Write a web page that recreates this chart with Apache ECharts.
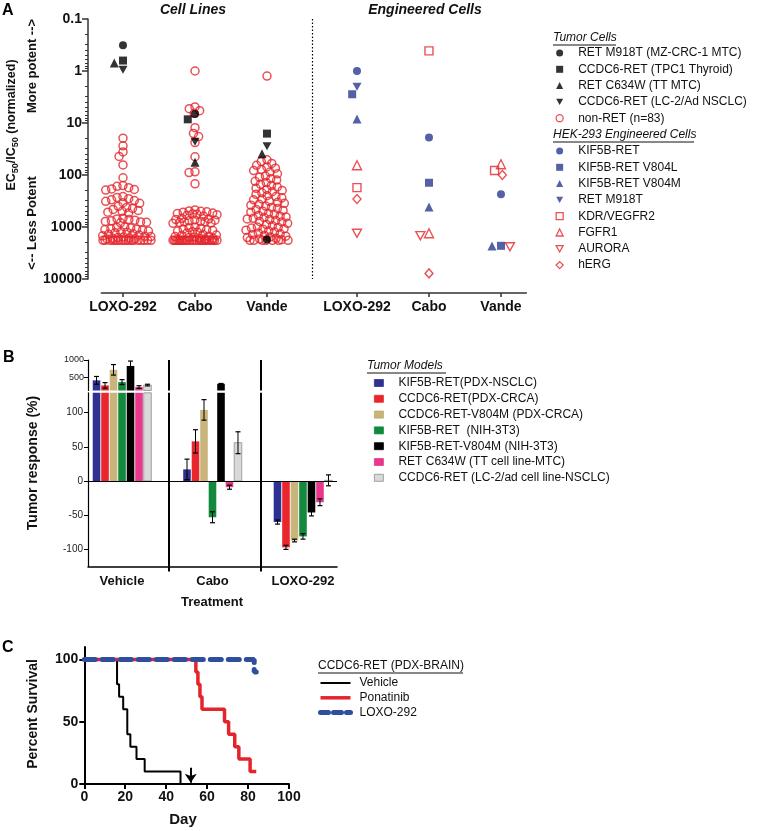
<!DOCTYPE html>
<html><head><meta charset="utf-8">
<script src="https://cdn.jsdelivr.net/npm/echarts@6/dist/echarts.min.js"></script>
<style>html,body{margin:0;padding:0;background:#fff}#c{width:764px;height:831px}</style>
</head><body><div id="c"></div><script>
// ---------------- DATA ----------------
// Panel A
const cellDrugs = ['LOXO-292', 'Cabo', 'Vande'];
const engDrugs = ['LOXO-292', 'Cabo', 'Vande'];
const yTicksA = [0.1, 1, 10, 100, 1000, 10000];

const nonRetLoxo = [19.6, 27.5, 36, 44, 64, 113,
  160, 165, 175, 185, 190, 195,
  260, 270, 285, 300, 310, 320, 340, 350,
  400, 420, 440, 460, 480, 500, 520, 540,
  680, 700, 720, 740, 760, 780, 800, 810, 820, 830,
  1000, 1020, 1050, 1080, 1100, 1120, 1150, 1180, 1200, 1230, 1260, 1290,
  1350, 1380, 1420, 1450, 1480, 1500, 1530, 1560, 1600, 1620, 1650, 1680, 1700,
  1800, 1800, 1800, 1800, 1800, 1800, 1800, 1800, 1800, 1800,
  1800, 1800, 1800, 1800, 1800, 1800, 1800, 1800, 1800, 1800];
const nonRetCabo = [1.0, 4.9, 5.3, 5.8, 6.5, 12.3, 15.9, 18.2, 23.8, 44.6, 87, 90, 148,
  470, 490, 500, 510, 520, 540, 550, 560, 570, 580, 600, 620,
  680, 700, 720, 730, 740, 760, 780, 790, 800, 820, 840, 850,
  1000, 1030, 1060, 1100, 1130, 1160, 1200, 1230, 1260, 1300,
  1400, 1430, 1460, 1500, 1530, 1560, 1600, 1630, 1660, 1700,
  1800, 1800, 1800, 1800, 1800, 1800, 1800, 1800, 1800, 1800, 1800, 1800, 1800,
  1800, 1800, 1800, 1800, 1800, 1800, 1800, 1800, 1800, 1800, 1800, 1800, 1800];
const nonRetVande = [1.25,
  51, 55, 60, 65, 70, 74, 78, 82, 88, 95,
  105, 110, 118, 125, 132, 140, 150, 160, 170, 180, 190, 198,
  210, 220, 235, 250, 260, 275, 290, 300, 320, 335, 350, 365, 380, 395,
  420, 440, 460, 480, 500, 520, 550, 570, 600, 620, 640, 660, 680, 700,
  720, 750, 780, 800, 850, 900, 950, 1000, 1020, 1050, 1080, 1100, 1150, 1200,
  1250, 1300, 1350, 1400, 1450, 1500, 1550, 1600, 1650, 1700, 1750, 1800, 1800, 1800, 1800, 1800, 1800, 1800];

// tumor cells, values for [LOXO-292, Cabo, Vande]
const retM918T_MZCRC1 = [0.32, 6.7, 1740];
const ccdc6Ret_TPC1 = [0.63, 8.5, 16];
const retC634W_TT = [0.7, 57, 39];
const ccdc6Ret_LC2 = [0.95, 23, 28];
// HEK-293 engineered cells, values for [LOXO-292, Cabo, Vande]
const kif5bRet = [1.0, 19, 235];
const kif5bRetV804L = [2.8, 141, 2300];
const kif5bRetV804M = [8.4, 413, 2330];
const retM918T_HEK = [2.0, null, null];
const kdrVegfr2 = [175, 0.41, 82];
const fgfr1 = [65, 1320, 62];
const aurora = [1320, 1470, 2400];
const hERG = [290, 7800, 100];

// Panel B: tumor response (%) for [Vehicle, Cabo, LOXO-292]
const treatments = ['Vehicle', 'Cabo', 'LOXO-292'];
const respKif5bNsclc = [420, 17, -60], errKif5bNsclc = [110, 15, 3];
const respCcdc6Crca = [275, 58, -97], errCcdc6Crca = [80, 17, 3];
const respCcdc6V804m = [720, 104, -87], errCcdc6V804m = [150, 15, 2];
const respKif5bNih = [370, -53, -81], errKif5bNih = [70, 8, 4];
const respKif5bV804mNih = [830, 320, -46], errKif5bV804mNih = [140, 10, 5];
const respRetC634wTT = [228, -9, -31], errRetC634wTT = [38, 3, 5];
const respCcdc6Lc2 = [285, 56, 1], errCcdc6Lc2 = [24, 16, 8];
const yTicksBLow = [-100, -50, 0, 50, 100];
const yTicksBHigh = [500, 1000];

// Panel C: Kaplan-Meier [day, percent survival]
const survVehicle = [[0, 100], [16, 80], [17, 70], [19, 60], [21, 40], [22.5, 30], [25.5, 20], [29.5, 10], [47, 0]];
const survPonatinib = [[0, 100], [54.5, 90], [55.5, 80], [56.5, 70], [57.5, 60], [68.5, 50], [70.5, 40], [73.5, 30], [75.5, 20], [81, 10], [84, 10]];
const survLoxo = [[0, 100], [83, 90], [84, 90]];
const arrowDay = 52;
const yTicksC = [0, 50, 100];

// ---------------- LAYOUT / STYLE ----------------
const FONT = '"Liberation Sans", Arial, sans-serif';
const RED = '#E4262C', NAVY = '#2B3990';
const A_PX_PER_UNIT = 72, A_PX_PER_DECADE = 52;
const cellX = [1, 2, 3], engX = [4.25, 5.25, 6.25];
const xPosA = cellX.concat(engX), xLabA = cellDrugs.concat(engDrugs);
const DOWN_TRI = 'path://M0,0L10,0L5,9Z';

function swarm(values, colX, d, maxHalf) {
  const order = values.map((v, i) => i).filter(i => values[i] != null)
    .sort((a, b) => values[a] - values[b]);
  const placed = [];
  const out = values.map(() => null);
  order.forEach(i => {
    const y = Math.log10(values[i]) * A_PX_PER_DECADE;
    const near = placed.filter(p => Math.abs(p.y - y) < d);
    const cands = [0];
    near.forEach(p => {
      const dx = Math.sqrt(d * d - (p.y - y) * (p.y - y));
      cands.push(p.x - dx, p.x + dx);
    });
    cands.sort((a, b) => Math.abs(a) - Math.abs(b));
    let best = null;
    for (const c of cands) {
      if (Math.abs(c) > maxHalf) continue;
      if (near.every(p => (p.x - c) ** 2 + (p.y - y) ** 2 >= d * d - 1e-6)) { best = c; break; }
    }
    if (best === null) {
      let score = -1;
      for (let c = -maxHalf; c <= maxHalf + 1e-9; c += 0.5) {
        let m = Infinity;
        near.forEach(p => { m = Math.min(m, Math.hypot(p.x - c, p.y - y)); });
        if (m > score + 1e-9) { score = m; best = c; }
      }
    }
    placed.push({ x: best, y });
    out[i] = [colX + best / A_PX_PER_UNIT, values[i]];
  });
  return out;
}

function groupSwarm(sets, xs, d, maxHalf) {
  const res = sets.map(() => []);
  xs.forEach((x, j) => {
    const pos = swarm(sets.map(s => s[j]), x, d, maxHalf);
    pos.forEach((p, k) => { if (p) res[k].push(p); });
  });
  return res;
}

const nonRetData = [].concat(
  swarm(nonRetLoxo, cellX[0], 6, 28),
  swarm(nonRetCabo, cellX[1], 6, 22),
  swarm(nonRetVande, cellX[2], 6, 21));

const tumorSets = [retM918T_MZCRC1, ccdc6Ret_TPC1, retC634W_TT, ccdc6Ret_LC2];
const tumorNames = ['RET M918T (MZ-CRC-1 MTC)', 'CCDC6-RET (TPC1 Thyroid)', 'RET C634W (TT MTC)', 'CCDC6-RET (LC-2/Ad NSCLC)'];
const tumorSym = ['circle', 'rect', 'triangle', DOWN_TRI];
const tumorSize = [8, 8, 9, [9, 8]];
const tumorPos = groupSwarm(tumorSets, cellX, 9, 16);

const engSets = [kif5bRet, kif5bRetV804L, kif5bRetV804M, retM918T_HEK, kdrVegfr2, fgfr1, aurora, hERG];
const engNames = ['KIF5B-RET', 'KIF5B-RET V804L', 'KIF5B-RET V804M', 'RET M918T', 'KDR/VEGFR2', 'FGFR1', 'AURORA', 'hERG'];
const engSym = ['circle', 'rect', 'triangle', DOWN_TRI, 'rect', 'triangle', DOWN_TRI, 'diamond'];
const engSize = [8, 8, 9, [9, 8], 8, 9, [9, 8], [8, 9]];
const engOpen = [false, false, false, false, true, true, true, true];
const engPos = groupSwarm(engSets, engX, 9, 16);

function sc(name, data, symbol, size, color, open, z) {
  return {
    type: 'scatter', name, xAxisIndex: 0, yAxisIndex: 0, data, symbol, symbolSize: size,
    itemStyle: open ? { color: 'rgba(0,0,0,0)', borderColor: color, borderWidth: 1.4 } : { color, borderWidth: 0 },
    emphasis: { disabled: true }, z: z || 3, silent: true
  };
}

const series = [];
const nonRet = sc('non-RET (n=83)', nonRetData, 'circle', 8, RED, true, 3);
nonRet.itemStyle.borderWidth = 1.5;
nonRet.markLine = {
  silent: true, symbol: 'none', label: { show: false },
  lineStyle: { type: [1.5, 2], color: '#000', width: 1.2 },
  data: [[{ coord: [3.625, 0.1] }, { coord: [3.625, 10000] }]]
};
series.push(nonRet);
tumorNames.forEach((n, k) => series.push(sc(n, tumorPos[k], tumorSym[k], tumorSize[k], '#000', false, 5)));
engNames.forEach((n, k) => series.push(sc(n, engPos[k], engSym[k], engSize[k], engOpen[k] ? RED : NAVY, engOpen[k], 5)));

// Panel B bars
const modelNames = ['KIF5B-RET(PDX-NSCLC)', 'CCDC6-RET(PDX-CRCA)', 'CCDC6-RET-V804M (PDX-CRCA)', 'KIF5B-RET  (NIH-3T3)',
  'KIF5B-RET-V804M (NIH-3T3)', 'RET C634W (TT cell line-MTC)', 'CCDC6-RET (LC-2/ad cell line-NSCLC)'];
const modelResp = [respKif5bNsclc, respCcdc6Crca, respCcdc6V804m, respKif5bNih, respKif5bV804mNih, respRetC634wTT, respCcdc6Lc2];
const modelErr = [errKif5bNsclc, errCcdc6Crca, errCcdc6V804m, errKif5bNih, errKif5bV804mNih, errRetC634wTT, errCcdc6Lc2];
const modelColor = ['#2E3192', '#E8262B', '#C9B47C', '#12893D', '#000000', '#E8388B', '#D9D9D9'];
const modelBorder = ['#2E3192', '#E8262B', '#B9A46C', '#12893D', '#000000', '#E8388B', '#8E8E8E'];
const BAR_STEP = 8.5 / 90.5, BAR_W = 7.6 / 90.5;
const groupX = [1, 2, 3];

function makeBarRender(k) {
  return function (params, api) {
    const g = api.value(0), v = api.value(1), e = api.value(2);
    const cx = g + (k - 3) * BAR_STEP;
    const cs = params.coordSys;
    const clipBox = { x: cs.x, y: cs.y, width: cs.width, height: cs.height };
    const a = api.coord([cx - BAR_W / 2, 0]);
    const b = api.coord([cx + BAR_W / 2, v]);
    const rect = echarts.graphic.clipRectByRect(
      { x: a[0], y: Math.min(a[1], b[1]), width: b[0] - a[0], height: Math.abs(b[1] - a[1]) }, clipBox);
    const children = [];
    if (rect) children.push({ type: 'rect', shape: rect, style: { fill: modelColor[k], stroke: modelBorder[k], lineWidth: k === 6 ? 0.8 : 0 } });
    const px = api.coord([cx, v])[0];
    const t = api.coord([cx, v + e])[1], bt = api.coord([cx, v - e])[1];
    const y1 = Math.max(Math.min(t, bt), cs.y), y2 = Math.min(Math.max(t, bt), cs.y + cs.height);
    if (y2 > y1) {
      children.push({ type: 'line', shape: { x1: px, y1, x2: px, y2 }, style: { stroke: '#000', lineWidth: 1 } });
      [t, bt].forEach(yy => {
        if (yy >= cs.y && yy <= cs.y + cs.height)
          children.push({ type: 'line', shape: { x1: px - 2.5, y1: yy, x2: px + 2.5, y2: yy }, style: { stroke: '#000', lineWidth: 1.2 } });
      });
    }
    return { type: 'group', children };
  };
}
modelNames.forEach((n, k) => {
  const data = groupX.map((g, i) => [g, modelResp[k][i], modelErr[k][i]]);
  [[1, 2], [2, 3]].forEach(([xi, yi]) => {
    series.push({
      type: 'custom', name: n, xAxisIndex: xi, yAxisIndex: yi, data, silent: true,
      encode: { x: 0, y: 1 }, itemStyle: { color: modelColor[k], borderColor: modelBorder[k] },
      renderItem: makeBarRender(k), z: 3
    });
  });
});
// separators & zero line (panel B)
series.push({
  type: 'line', name: '_sepLow', xAxisIndex: 2, yAxisIndex: 3, data: [], silent: true,
  markLine: {
    silent: true, symbol: 'none', label: { show: false }, lineStyle: { color: '#000', type: 'solid', width: 2 },
    data: [[{ coord: [1.519, -125] }, { coord: [1.519, 129] }], [{ coord: [2.536, -125] }, { coord: [2.536, 129] }],
      { yAxis: 0, lineStyle: { width: 1 } }]
  }
});
series.push({
  type: 'line', name: '_sepHigh', xAxisIndex: 1, yAxisIndex: 2, data: [], silent: true,
  markLine: {
    silent: true, symbol: 'none', label: { show: false }, lineStyle: { color: '#000', type: 'solid', width: 2 },
    data: [[{ coord: [1.519, 130] }, { coord: [1.519, 1000] }], [{ coord: [2.536, 130] }, { coord: [2.536, 1000] }]]
  }
});

// Panel C
const survColor = ['#000000', '#E3242B', '#2F4E9E'];
const survWidth = [2, 3.5, 5];
series.push({
  type: 'line', name: 'Vehicle', xAxisIndex: 3, yAxisIndex: 4, data: survVehicle, step: 'end', symbol: 'none',
  lineStyle: { color: survColor[0], width: survWidth[0] }, itemStyle: { color: survColor[0] }, z: 2, silent: true,
  markLine: {
    silent: true, symbol: ['none', 'arrow'], symbolSize: 9, label: { show: false },
    lineStyle: { color: '#000', width: 2, type: 'solid' },
    data: [[{ coord: [arrowDay, 13] }, { coord: [arrowDay, 1] }]]
  }
});
series.push({
  type: 'line', name: 'Ponatinib', xAxisIndex: 3, yAxisIndex: 4, data: survPonatinib, step: 'end', symbol: 'none',
  lineStyle: { color: survColor[1], width: survWidth[1] }, itemStyle: { color: survColor[1] }, z: 3, silent: true
});
series.push({
  type: 'line', name: 'LOXO-292', xAxisIndex: 3, yAxisIndex: 4, data: survLoxo, step: 'end', symbol: 'none',
  lineStyle: { color: survColor[2], width: survWidth[2], type: [11, 7], cap: 'round' }, itemStyle: { color: survColor[2] }, z: 4, silent: true
});

// minor log ticks
const minorA = [];
for (let d = -1; d < 4; d++) for (let k = 2; k <= 9; k++) minorA.push(d + Math.log10(k));

const axisLineA = { show: true, onZero: false, lineStyle: { color: '#333', width: 1.5 } };
const legText = { fontFamily: FONT, fontSize: 12, lineHeight: 14, color: '#111' };

const option = {
  animation: false,
  textStyle: { fontFamily: FONT },
  grid: [
    { left: 101.4, top: 19, width: 425, height: 260 },
    { left: 88, top: 360, width: 249, height: 30.5 },
    { left: 88, top: 392.8, width: 249, height: 173.7 },
    { left: 84.3, top: 647, width: 204.7, height: 137 }
  ],
  xAxis: [
    {
      gridIndex: 0, type: 'value', min: 0.7, max: 6.603, offset: 14, position: 'bottom', splitLine: { show: false },
      axisLine: axisLineA,
      axisTick: { show: true, customValues: xPosA, length: 4, lineStyle: { color: '#333', width: 1.5 } },
      axisLabel: {
        customValues: xPosA, margin: 7, fontSize: 14, fontWeight: 'bold', color: '#111',
        formatter: v => xLabA[xPosA.findIndex(p => Math.abs(p - v) < 1e-6)] || ''
      }
    },
    { gridIndex: 1, type: 'value', min: 0.624, max: 3.376, show: false, splitLine: { show: false } },
    {
      gridIndex: 2, type: 'value', min: 0.624, max: 3.376, position: 'bottom', splitLine: { show: false },
      axisLine: { show: true, onZero: false, lineStyle: { color: '#000', width: 1.5 } },
      axisTick: { show: true, customValues: [1.519, 2.536], length: 5, lineStyle: { color: '#000', width: 2 } },
      axisLabel: {
        customValues: groupX, margin: 8, fontSize: 13, fontWeight: 'bold', color: '#111',
        formatter: v => treatments[Math.round(v) - 1] || ''
      }
    },
    {
      gridIndex: 3, type: 'value', min: 0, max: 100, interval: 20, position: 'bottom', splitLine: { show: false },
      axisLine: { show: true, onZero: false, lineStyle: { color: '#000', width: 2 } },
      axisTick: { show: true, length: 5, lineStyle: { color: '#000', width: 2 } },
      axisLabel: { margin: 6, fontSize: 14, fontWeight: 'bold', color: '#111' }
    }
  ],
  yAxis: [
    {
      gridIndex: 0, type: 'log', logBase: 10, min: 0.1, max: 10000, inverse: true, position: 'left', offset: 13.4,
      splitLine: { show: false }, axisLine: axisLineA,
      axisTick: { show: true, length: 6, lineStyle: { color: '#333', width: 1.5 } },
      axisLabel: { fontSize: 14, fontWeight: 'bold', color: '#111', margin: 6, formatter: v => String(+(+v).toPrecision(4)) }
    },
    {
      gridIndex: 0, type: 'value', min: -1, max: 4, inverse: true, position: 'left', offset: 13.4,
      splitLine: { show: false }, axisLine: { show: false }, axisLabel: { show: false },
      axisTick: { show: true, customValues: minorA, length: 3, lineStyle: { color: '#333', width: 1 } }
    },
    {
      gridIndex: 1, type: 'value', min: 130, max: 1000, position: 'left', splitLine: { show: false },
      axisLine: { show: true, onZero: false, lineStyle: { color: '#000', width: 1.2 } },
      axisTick: { show: true, customValues: yTicksBHigh, length: 4, lineStyle: { color: '#000' } },
      axisLabel: { customValues: yTicksBHigh, fontSize: 9, color: '#222', margin: 4, formatter: v => String(v) }
    },
    {
      gridIndex: 2, type: 'value', min: -125, max: 129, position: 'left', splitLine: { show: false },
      axisLine: { show: true, onZero: false, lineStyle: { color: '#000', width: 1.2 } },
      axisTick: { show: true, customValues: yTicksBLow, length: 4, lineStyle: { color: '#000' } },
      axisLabel: { customValues: yTicksBLow, fontSize: 10, color: '#222', margin: 5 }
    },
    {
      gridIndex: 3, type: 'value', min: 0, max: 110, position: 'left', splitLine: { show: false },
      axisLine: { show: true, onZero: false, lineStyle: { color: '#000', width: 2 } },
      axisTick: { show: true, customValues: yTicksC, length: 5, lineStyle: { color: '#000', width: 2 } },
      axisLabel: { customValues: yTicksC, fontSize: 14, fontWeight: 'bold', color: '#111', margin: 6 }
    }
  ],
  legend: [
    {
      left: 555.5, top: 46, padding: 0, orient: 'vertical', selectedMode: false, itemWidth: 7, itemHeight: 7, itemGap: 2.3,
      textStyle: Object.assign({}, legText, { padding: [0, 0, 0, 10] }),
      data: tumorNames.map((n, k) => ({ name: n, icon: tumorSym[k] })).concat([
        { name: 'non-RET (n=83)', icon: 'circle', itemStyle: { color: 'rgba(0,0,0,0)', borderColor: RED, borderWidth: 1.3 } }])
    },
    {
      left: 555.5, top: 144, padding: 0, orient: 'vertical', selectedMode: false, itemWidth: 7, itemHeight: 7, itemGap: 2.3,
      textStyle: Object.assign({}, legText, { padding: [0, 0, 0, 10] }),
      data: engNames.map((n, k) => engOpen[k]
        ? { name: n, icon: engSym[k], itemStyle: { color: 'rgba(0,0,0,0)', borderColor: RED, borderWidth: 1.3 } }
        : { name: n, icon: engSym[k] })
    },
    {
      left: 374, top: 376, padding: 0, orient: 'vertical', selectedMode: false, itemWidth: 9, itemHeight: 7, itemGap: 1.8,
      textStyle: Object.assign({}, legText, { padding: [0, 0, 0, 10] }),
      data: modelNames.map((n, k) => ({ name: n, icon: 'rect', itemStyle: { color: modelColor[k], borderColor: modelBorder[k], borderWidth: 0.8 } }))
    },
    {
      left: 318, top: 676, padding: 0, orient: 'vertical', selectedMode: false, itemWidth: 30, itemHeight: 8, itemGap: 0.8,
      textStyle: Object.assign({}, legText, { padding: [0, 0, 0, 4] }),
      data: ['Vehicle', 'Ponatinib', 'LOXO-292'].map((n, k) => ({
        name: n, itemStyle: { opacity: 0 },
        lineStyle: { width: survWidth[k], color: survColor[k], type: k === 2 ? [8, 5] : 'solid', cap: k === 2 ? 'round' : 'butt' }
      }))
    }
  ],
  graphic: [
    { type: 'text', left: 2, top: 3, style: { text: 'A', font: 'bold 16px ' + FONT, fill: '#000' } },
    { type: 'text', left: 3, top: 350, style: { text: 'B', font: 'bold 16px ' + FONT, fill: '#000' } },
    { type: 'text', left: 2, top: 640, style: { text: 'C', font: 'bold 16px ' + FONT, fill: '#000' } },
    { type: 'text', x: 193, y: 10, style: { text: 'Cell Lines', font: 'italic bold 14px ' + FONT, fill: '#111', align: 'center', verticalAlign: 'middle', textAlign: 'center', textVerticalAlign: 'middle' } },
    { type: 'text', x: 425, y: 10, style: { text: 'Engineered Cells', font: 'italic bold 14px ' + FONT, fill: '#111', align: 'center', verticalAlign: 'middle', textAlign: 'center', textVerticalAlign: 'middle' } },
    {
      type: 'text', x: 12, y: 125, rotation: Math.PI / 2,
      style: {
        text: '{n|EC}{s|50}{n|/IC}{s|50}{n| (normalized)}', align: 'center', verticalAlign: 'middle', textAlign: 'center', textVerticalAlign: 'middle',
        rich: { n: { fontSize: 12.5, fontWeight: 'bold', fontFamily: FONT, color: '#111', fill: '#111' },
          s: { fontSize: 9, fontWeight: 'bold', fontFamily: FONT, color: '#111', fill: '#111', padding: [8, 0, 0, 0] } }
      }
    },
    { type: 'text', x: 32, y: 66, rotation: Math.PI / 2, style: { text: 'More potent -->', font: 'bold 13px ' + FONT, fill: '#111', align: 'center', verticalAlign: 'middle', textAlign: 'center', textVerticalAlign: 'middle' } },
    { type: 'text', x: 32, y: 223, rotation: Math.PI / 2, style: { text: '<-- Less Potent', font: 'bold 13px ' + FONT, fill: '#111', align: 'center', verticalAlign: 'middle', textAlign: 'center', textVerticalAlign: 'middle' } },
    { type: 'text', x: 33, y: 463, rotation: Math.PI / 2, style: { text: 'Tumor response (%)', font: 'bold 14px ' + FONT, fill: '#111', align: 'center', verticalAlign: 'middle', textAlign: 'center', textVerticalAlign: 'middle' } },
    { type: 'text', x: 212, y: 602, style: { text: 'Treatment', font: 'bold 13px ' + FONT, fill: '#111', align: 'center', verticalAlign: 'middle', textAlign: 'center', textVerticalAlign: 'middle' } },
    { type: 'text', x: 33, y: 714, rotation: Math.PI / 2, style: { text: 'Percent Survival', font: 'bold 14px ' + FONT, fill: '#111', align: 'center', verticalAlign: 'middle', textAlign: 'center', textVerticalAlign: 'middle' } },
    { type: 'text', x: 183, y: 820, style: { text: 'Day', font: 'bold 15px ' + FONT, fill: '#111', align: 'center', verticalAlign: 'middle', textAlign: 'center', textVerticalAlign: 'middle' } },
    // legend headers
    { type: 'text', x: 553, y: 38, style: { text: 'Tumor Cells', font: 'italic 12px ' + FONT, fill: '#111', align: 'left', verticalAlign: 'middle', textAlign: 'left', textVerticalAlign: 'middle' } },
    { type: 'line', shape: { x1: 553, y1: 45, x2: 616, y2: 45 }, style: { stroke: '#111', lineWidth: 1 } },
    { type: 'text', x: 553, y: 135, style: { text: 'HEK-293 Engineered Cells', font: 'italic 12px ' + FONT, fill: '#111', align: 'left', verticalAlign: 'middle', textAlign: 'left', textVerticalAlign: 'middle' } },
    { type: 'line', shape: { x1: 553, y1: 142, x2: 694, y2: 142 }, style: { stroke: '#111', lineWidth: 1 } },
    { type: 'text', x: 367, y: 366, style: { text: 'Tumor Models', font: 'italic 12px ' + FONT, fill: '#111', align: 'left', verticalAlign: 'middle', textAlign: 'left', textVerticalAlign: 'middle' } },
    { type: 'line', shape: { x1: 367, y1: 373, x2: 446, y2: 373 }, style: { stroke: '#111', lineWidth: 1 } },
    { type: 'text', x: 318, y: 666, style: { text: 'CCDC6-RET (PDX-BRAIN)', font: '12px ' + FONT, fill: '#111', align: 'left', verticalAlign: 'middle', textAlign: 'left', textVerticalAlign: 'middle' } },
    { type: 'line', shape: { x1: 318, y1: 673, x2: 463, y2: 673 }, style: { stroke: '#111', lineWidth: 1 } }
  ],
  series
};

const chart = echarts.init(document.getElementById('c'), null, { renderer: 'canvas' });
chart.setOption(option);
</script></body></html>
